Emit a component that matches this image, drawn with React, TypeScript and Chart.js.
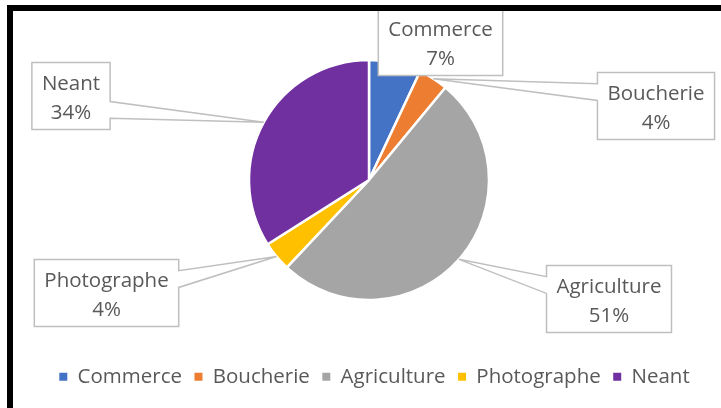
import React, { useEffect, useRef } from "react";
import { Chart, registerables } from "chart.js";

Chart.register(...registerables);

const categories = ["Commerce", "Boucherie", "Agriculture", "Photographe", "Neant"];
const values = [7, 4, 51, 4, 34];
const colors = ["#4472C4", "#ED7D31", "#A5A5A5", "#FFC000", "#7030A0"];
// callout box centres, relative to the pie centre (layout only)
const labelOffsets: [number, number][] = [
  [71.5, -138],
  [287, -74],
  [240, 119],
  [-262.5, 113],
  [-298, -84],
];

const FONT = '"Open Sans", "Noto Sans", sans-serif';
const FONT_SIZE = 20.5;
const TEXT = "#595959";
const LEGEND_SHIFT = 5.5;

const calloutPlugin = {
  id: "callouts",
  afterLayout(chart: any) {
    if (chart.legend) {
      chart.legend.left += LEGEND_SHIFT;
      chart.legend.right += LEGEND_SHIFT;
    }
  },
  afterDatasetsDraw(chart: any) {
    const ctx = chart.ctx as CanvasRenderingContext2D;
    const meta = chart.getDatasetMeta(0);
    const data = chart.data.datasets[0].data as number[];
    const total = data.reduce((a, b) => a + b, 0);
    ctx.save();
    ctx.font = `${FONT_SIZE}px ${FONT}`;
    meta.data.forEach((arc: any, i: number) => {
      const { x, y, startAngle, endAngle, outerRadius } = arc.getProps(
        ["x", "y", "startAngle", "endAngle", "outerRadius"],
        true
      );
      const mid = (startAngle + endAngle) / 2;
      const ax = x + Math.cos(mid) * outerRadius;
      const ay = y + Math.sin(mid) * outerRadius;
      const lines = [String(chart.data.labels[i]), Math.round((data[i] / total) * 100) + "%"];
      const tw = Math.max(...lines.map((s) => ctx.measureText(s).width));
      const w = tw + 20;
      const h = 67;
      const cx = x + labelOffsets[i][0];
      const cy = y + labelOffsets[i][1];
      const l = cx - w / 2, r = cx + w / 2, t = cy - h / 2, b = cy + h / 2;
      const inside = ax >= l && ax <= r && ay >= t && ay <= b;
      ctx.beginPath();
      if (inside) {
        ctx.rect(l, t, w, h);
      } else {
        const dx = ax - cx, dy = ay - cy;
        const dq = (dx * h) / w;
        const dz = Math.abs(dy) - Math.abs(dq);
        if (dz <= 0) {
          const y1 = t + (h * (dy > 0 ? 7 : 2)) / 12;
          const y2 = t + (h * (dy > 0 ? 10 : 5)) / 12;
          if (dx > 0) {
            ctx.moveTo(l, t); ctx.lineTo(r, t); ctx.lineTo(r, y1); ctx.lineTo(ax, ay);
            ctx.lineTo(r, y2); ctx.lineTo(r, b); ctx.lineTo(l, b); ctx.closePath();
          } else {
            ctx.moveTo(l, t); ctx.lineTo(r, t); ctx.lineTo(r, b); ctx.lineTo(l, b);
            ctx.lineTo(l, y2); ctx.lineTo(ax, ay); ctx.lineTo(l, y1); ctx.closePath();
          }
        } else {
          const x1 = l + (w * (dx > 0 ? 7 : 2)) / 12;
          const x2 = l + (w * (dx > 0 ? 10 : 5)) / 12;
          if (dy > 0) {
            ctx.moveTo(l, t); ctx.lineTo(r, t); ctx.lineTo(r, b); ctx.lineTo(x2, b);
            ctx.lineTo(ax, ay); ctx.lineTo(x1, b); ctx.lineTo(l, b); ctx.closePath();
          } else {
            ctx.moveTo(l, t); ctx.lineTo(x1, t); ctx.lineTo(ax, ay); ctx.lineTo(x2, t);
            ctx.lineTo(r, t); ctx.lineTo(r, b); ctx.lineTo(l, b); ctx.closePath();
          }
        }
      }
      ctx.fillStyle = "#ffffff";
      ctx.fill();
      ctx.strokeStyle = "#BFBFBF";
      ctx.lineWidth = 1.5;
      ctx.stroke();
      ctx.fillStyle = TEXT;
      ctx.textAlign = "center";
      ctx.textBaseline = "middle";
      ctx.fillText(lines[0], cx, cy - 12);
      ctx.fillText(lines[1], cx, cy + 17.5);
    });
    ctx.restore();
  },
};

export default function App() {
  const ref = useRef<HTMLCanvasElement>(null);
  useEffect(() => {
    let chart: Chart | null = null;
    let cancelled = false;
    const make = () => {
      if (cancelled || !ref.current) return;
      chart = new Chart(ref.current, {
        type: "pie",
        data: {
          labels: categories,
          datasets: [
            {
              data: values,
              backgroundColor: colors,
              borderColor: "#ffffff",
              borderWidth: 2.5,
              radius: 120,
            } as any,
          ],
        },
        options: {
          responsive: false,
          animation: false,
          devicePixelRatio: 1,
          layout: { padding: { left: 17, right: 0, top: 6, bottom: 11 } },
          plugins: {
            tooltip: { enabled: false },
            legend: {
              position: "bottom",
              labels: {
                boxWidth: 8,
                boxHeight: 8,
                padding: 12.5,
                color: TEXT,
                font: { family: FONT, size: FONT_SIZE },
                generateLabels: (c: any) =>
                  (Chart as any).overrides.pie.plugins.legend.labels
                    .generateLabels(c)
                    .map((it: any) => ({ ...it, lineWidth: 0, strokeStyle: it.fillStyle })),
              },
            },
          },
        },
        plugins: [calloutPlugin],
      });
    };
    const fonts = (document as any).fonts;
    if (fonts && fonts.load) {
      fonts.load(`20px "Open Sans"`).then(make, make);
    } else make();
    return () => {
      cancelled = true;
      if (chart) chart.destroy();
    };
  }, []);
  return (
    <div style={{ position: "fixed", left: 0, top: 0, width: 721, height: 408, background: "#fff", overflow: "hidden" }}>
      <canvas ref={ref} width={721} height={408} style={{ position: "absolute", left: 0, top: 0 }} />
      <div
        style={{
          position: "absolute",
          left: 7,
          top: 5,
          width: 800,
          height: 500,
          borderLeft: "6px solid #000",
          borderTop: "6px solid #000",
          pointerEvents: "none",
        }}
      />
    </div>
  );
}
